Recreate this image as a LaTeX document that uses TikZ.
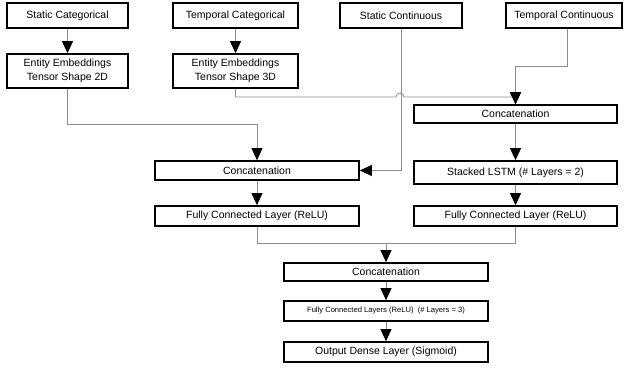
\documentclass[tikz,border=0pt]{standalone}
\usepackage{fontspec}
\setmainfont{Liberation Sans}
\usetikzlibrary{arrows.meta,calc}
\begin{document}
\begin{tikzpicture}[x=1pt,y=1pt,
  box/.style={draw=black,line width=1.7pt,fill=white,inner sep=0pt,align=center,font=\fontsize{10.5}{13.5}\selectfont},
  conn/.style={draw=black!45,line width=0.8pt},
  arr/.style={conn,-{Triangle[width=11pt,length=12pt,color=black]}}]
\useasboundingbox (0,0) rectangle (624,-367);
% top row
\node[box,minimum width=121,minimum height=25] (sc) at (67.5,-15.5) {Static Categorical};
\node[box,minimum width=125,minimum height=25] (tc) at (235.5,-15.5) {Temporal Categorical};
\node[box,minimum width=122,minimum height=25] (scont) at (401,-15.5) {Static Continuous};
\node[box,minimum width=116,minimum height=25] (tcont) at (564,-15.5) {Temporal Continuous};
% embeddings
\node[box,minimum width=121,minimum height=34] (e2) at (67.5,-71) {Entity Embeddings\\Tensor Shape 2D};
\node[box,minimum width=125,minimum height=34] (e3) at (235.5,-71) {Entity Embeddings\\Tensor Shape 3D};
% right branch
\node[box,minimum width=203,minimum height=18] (cr) at (515.5,-114) {Concatenation};
\node[box,minimum width=203,minimum height=23] (lstm) at (515.5,-172.5) {Stacked LSTM (\# Layers = 2)};
\node[box,minimum width=203,minimum height=20] (fcr) at (515.5,-216) {Fully Connected Layer (ReLU)};
% left branch
\node[box,minimum width=204,minimum height=19] (cl) at (257,-170.5) {Concatenation};
\node[box,minimum width=204,minimum height=20] (fcl) at (257,-216) {Fully Connected Layer (ReLU)};
% bottom
\node[box,minimum width=204,minimum height=18] (cb) at (386,-272) {Concatenation};
\node[box,minimum width=204,minimum height=20,font=\fontsize{7.6}{9}\selectfont] (fc3) at (386,-311) {Fully Connected Layers (ReLU)\ \ (\# Layers = 3)};
\node[box,minimum width=204,minimum height=20] (out) at (386,-352) {Output Dense Layer (Sigmoid)};
% coordinates
\coordinate (j1) at (257,-124);
\coordinate (j2) at (396,-97);
\coordinate (j3) at (404,-97);
\coordinate (j4) at (515.5,-97);
\coordinate (j5) at (567,-66);
\coordinate (j6) at (386,-243);
% connectors
\draw[arr] (sc.south) -- (e2.north);
\draw[arr] (tc.south) -- (e3.north);
\draw[arr] (e2.south) |- (j1) -- (cl.north);
\draw[arr] (e3.south) |- (j2) arc (180:0:4) -- (j4) -- (cr.north);
\draw[arr] ([xshift=3pt]tcont.south) -- (j5) -| (cr.north);
\draw[arr] (scont.south) |- (cl.east);
\draw[arr] (cr.south) -- (lstm.north);
\draw[arr] (lstm.south) -- (fcr.north);
\draw[arr] (cl.south) -- (fcl.north);
\draw[conn] (fcl.south) |- (j6);
\draw[conn] (fcr.south) |- (j6);
\draw[arr] (j6) -- (cb.north);
\draw[arr] (cb.south) -- (fc3.north);
\draw[arr] (fc3.south) -- (out.north);
\end{tikzpicture}
\end{document}
